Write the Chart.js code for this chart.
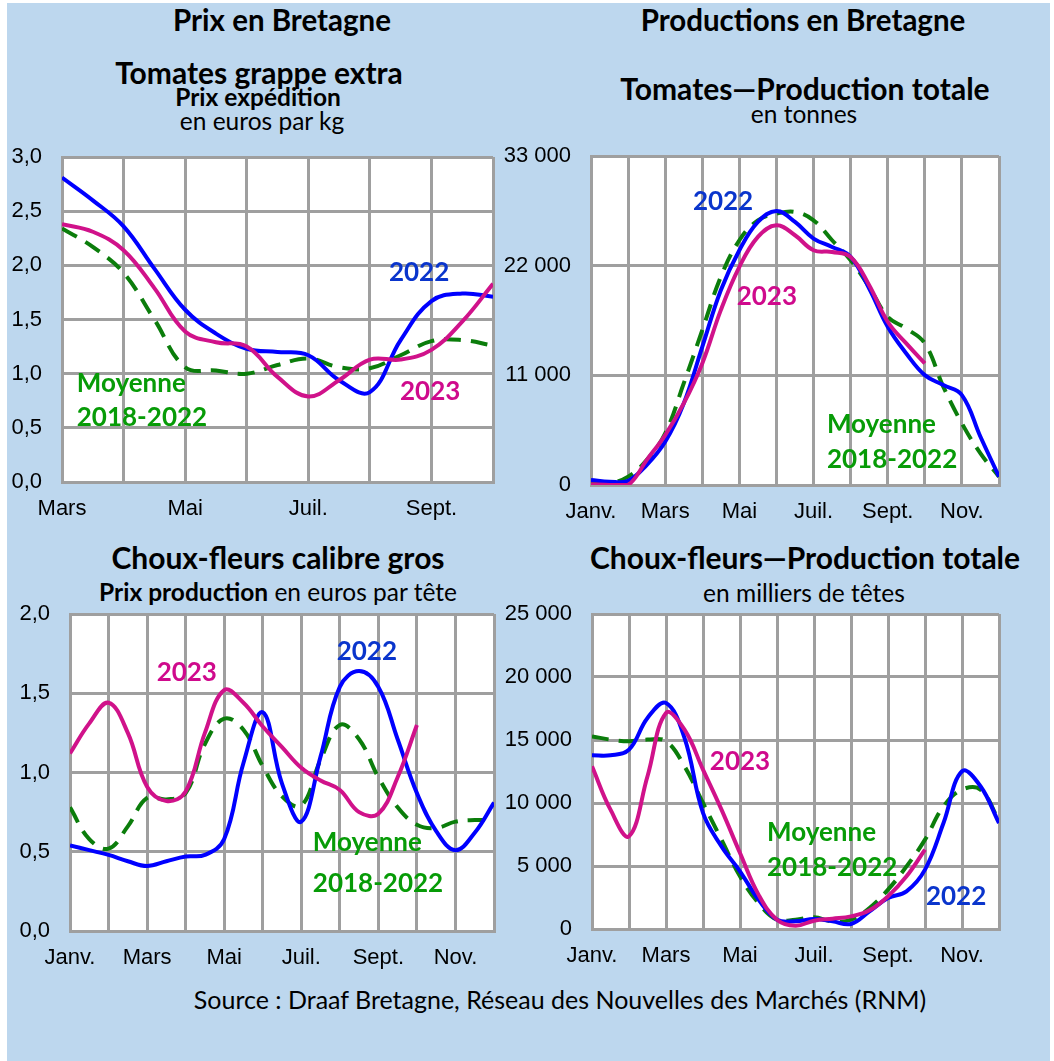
<!DOCTYPE html>
<html lang="fr">
<head>
<meta charset="utf-8">
<script src="https://cdn.jsdelivr.net/npm/chart.js@4.4.1/dist/chart.umd.min.js"></script>
<style>
  html, body { margin: 0; padding: 0; background: #fff; }
  body { width: 1054px; height: 1061px; position: relative; overflow: hidden; font-family: Lato, sans-serif; }
  #panel { position: absolute; left: 7px; top: 3px; width: 1043px; height: 1058px; background: #bdd7ee; }
  .t { position: absolute; white-space: nowrap; transform: translate(-50%, -50%); color: #000; line-height: 1; }
  .b { font-weight: bold; }
  .box { position: absolute; }
</style>
</head>
<body>
<div id="panel"></div>

<div class="t b" style="left:282px;top:20px;font-size:29.5px">Prix en Bretagne</div>
<div class="t b" style="left:803px;top:20px;font-size:29.5px">Productions en Bretagne</div>

<div class="t b" style="left:259px;top:72px;font-size:30px">Tomates grappe extra</div>
<div class="t b" style="left:258px;top:97px;font-size:24.5px">Prix expédition</div>
<div class="t" style="left:262px;top:121px;font-size:24.5px">en euros par kg</div>

<div class="t b" style="left:805px;top:88px;font-size:30px">Tomates—Production totale</div>
<div class="t" style="left:804px;top:114px;font-size:24.5px">en tonnes</div>

<div class="t b" style="left:278px;top:557px;font-size:30px">Choux-fleurs calibre gros</div>
<div class="t" style="left:278px;top:592px;font-size:24.5px"><b>Prix production</b> en euros par tête</div>

<div class="t b" style="left:805px;top:557px;font-size:30px">Choux-fleurs—Production totale</div>
<div class="t" style="left:804px;top:593px;font-size:24.5px">en milliers de têtes</div>

<div class="t" style="left:560px;top:999px;font-size:25px">Source :  Draaf Bretagne, Réseau des Nouvelles des Marchés (RNM)</div>

<div class="box" id="b1"><canvas id="c1"></canvas></div>
<div class="box" id="b2"><canvas id="c2"></canvas></div>
<div class="box" id="b3"><canvas id="c3"></canvas></div>
<div class="box" id="b4"><canvas id="c4"></canvas></div>

<script>
// month positions (1 = Janv., 12 = Déc.), half-month steps
const MONTHS = ["Janv.", "Févr.", "Mars", "Avr.", "Mai", "Juin", "Juil.", "Août", "Sept.", "Oct.", "Nov.", "Déc."];

// Tomates grappe extra - prix expédition (euros/kg), Mars -> Oct.
const tomPrixX = [3, 3.5, 4, 4.5, 5, 5.5, 6, 6.5, 7, 7.5, 8, 8.5, 9, 9.5, 10];
const tomPrix2022 = [2.81, 2.6, 2.36, 1.97, 1.59, 1.37, 1.23, 1.2, 1.17, 0.94, 0.83, 1.31, 1.67, 1.74, 1.71];
const tomPrix2023 = [2.38, 2.31, 2.14, 1.79, 1.39, 1.29, 1.25, 0.97, 0.79, 0.94, 1.13, 1.13, 1.22, 1.48, 1.83];
const tomPrixMoy = [2.34, 2.17, 1.93, 1.5, 1.06, 1.03, 1.0, 1.08, 1.14, 1.06, 1.05, 1.17, 1.3, 1.31, 1.26];

// Tomates - production totale (tonnes)
const tomProdX = [1, 1.5, 2, 2.5, 3, 3.5, 4, 4.5, 5, 5.5, 6, 6.5, 7, 7.5, 8, 8.5, 9, 9.5, 10, 10.5, 11, 11.5, 12];
const tomProd2022 = [500, 330, 430, 2000, 4340, 8180, 13860, 19540, 23550, 26390, 27490, 26390, 24720, 23880, 22880, 19710, 15870, 13190, 11020, 10020, 9020, 4840, 835];
const tomProd2023 = [70, 0, 0, 2500, 5010, 8180, 12190, 17540, 21880, 24880, 26050, 25050, 23550, 23380, 22880, 20040, 16370, 14200, 12190];
const tomProdMoy = [170, 170, 835, 2500, 5180, 10190, 15530, 20880, 24550, 26550, 27220, 27390, 26550, 24550, 22550, 19870, 16870, 15700, 14200, 9850, 6180, 3170, 835];

// Choux-fleurs calibre gros - prix production (euros/tête)
const cfPrixX = [1, 1.5, 2, 2.5, 3, 3.5, 4, 4.5, 5, 5.5, 6, 6.5, 7, 7.5, 8, 8.5, 9, 9.5, 10, 10.5, 11, 11.5, 12];
const cfPrix2022 = [0.54, 0.51, 0.48, 0.44, 0.41, 0.44, 0.47, 0.48, 0.58, 1.06, 1.38, 0.93, 0.69, 1.1, 1.54, 1.64, 1.54, 1.21, 0.87, 0.63, 0.51, 0.62, 0.81];
const cfPrix2023 = [1.12, 1.31, 1.44, 1.25, 0.91, 0.82, 0.88, 1.25, 1.52, 1.44, 1.29, 1.16, 1.03, 0.95, 0.89, 0.75, 0.74, 0.97, 1.3];
const cfPrixMoy = [0.78, 0.58, 0.52, 0.66, 0.84, 0.83, 0.87, 1.18, 1.34, 1.27, 1.04, 0.85, 0.79, 1.08, 1.3, 1.21, 0.97, 0.78, 0.67, 0.65, 0.69, 0.7, 0.7];

// Choux-fleurs - production totale (milliers de têtes)
const cfProdX = [1, 1.5, 2, 2.5, 3, 3.5, 4, 4.5, 5, 5.5, 6, 6.5, 7, 7.5, 8, 8.5, 9, 9.5, 10, 10.5, 11, 11.5, 12];
const cfProd2022 = [13790, 13790, 14240, 16750, 17940, 15160, 9210, 6560, 4580, 2330, 740, 610, 790, 610, 400, 1400, 2460, 2990, 4710, 8410, 12520, 11330, 8410];
const cfProd2023 = [12910, 9470, 7360, 12120, 17150, 15820, 12650, 9470, 6030, 2730, 740, 260, 660, 820, 1000, 1480, 2590, 4180, 6300];
const cfProdMoy = [15290, 15030, 14900, 15030, 14900, 12910, 10000, 7090, 4180, 2060, 740, 740, 930, 610, 740, 1670, 3120, 4970, 7090, 9740, 11060, 11060, 8600];

const BLUE = "#0000ff";
const MAGENTA = "#d0128a";
const GREEN = "#0b7d0b";
const BLUE_TXT = "#0a35cc";
const MAG_TXT = "#cf0a8c";
const GREEN_TXT = "#079b07";
const GRID = "#9f9f9f";

const pts = (xs, ys) => ys.map((v, i) => ({ x: xs[i], y: v }));

const frNum = v => String(v).replace(/\B(?=(\d{3})+(?!\d))/g, " ");
const frDec = v => v.toFixed(1).replace(".", ",");

const plotBg = {
  id: "plotBg",
  beforeDraw(chart) {
    const a = chart.chartArea, ctx = chart.ctx;
    ctx.save();
    ctx.fillStyle = "#fff";
    ctx.fillRect(a.left, a.top, a.right - a.left, a.bottom - a.top);
    ctx.restore();
  }
};

const notes = {
  id: "notes",
  afterDatasetsDraw(chart, args, opts) {
    const ctx = chart.ctx, sx = chart.scales.x, sy = chart.scales.y;
    ctx.save();
    ctx.font = "bold 26px Lato, sans-serif";
    ctx.textBaseline = "middle";
    (opts.items || []).forEach(n => {
      ctx.fillStyle = n.color;
      ctx.textAlign = n.align || "center";
      ctx.fillText(n.text, sx.getPixelForValue(n.x), sy.getPixelForValue(n.y));
    });
    ctx.restore();
  }
};

const X_H = 45, PAD_T = 16, PAD_R = 14;

function makeChart(n, area, xr, yr, series, items) {
  const yW = yr.axisW;
  const box = document.getElementById("b" + n);
  const w = area.w + yW + PAD_R, h = area.h + PAD_T + X_H;
  box.style.left = (area.left - yW) + "px";
  box.style.top = (area.top - PAD_T) + "px";
  box.style.width = w + "px";
  box.style.height = h + "px";
  const cv = document.getElementById("c" + n);
  cv.width = w;
  cv.height = h;

  const line = (data, color, dash) => ({
    data: data,
    borderColor: color,
    borderWidth: 4,
    borderDash: dash || [],
    borderCapStyle: "butt",
    pointRadius: 0,
    tension: 0.4,
    fill: false
  });

  const tickFont = { family: "'Liberation Sans', Arial", size: 22 };

  return new Chart(cv.getContext("2d"), {
    type: "line",
    data: {
      datasets: [
        line(series.y2023, MAGENTA),
        line(series.y2022, BLUE),
        line(series.moy, GREEN, [17, 10])
      ]
    },
    options: {
      responsive: false,
      animation: false,
      layout: { padding: { top: PAD_T, right: PAD_R, left: 0, bottom: 0 } },
      plugins: { legend: { display: false }, tooltip: { enabled: false }, notes: { items: items } },
      scales: {
        x: {
          type: "linear",
          min: xr.min, max: xr.max,
          afterFit: s => { s.height = X_H; s.paddingLeft = 0; s.paddingRight = 0; },
          grid: { color: GRID, lineWidth: 3, drawTicks: false },
          border: { color: GRID, width: 3 },
          ticks: {
            stepSize: 1, autoSkip: false, maxRotation: 0, padding: 14,
            color: "#000", font: tickFont,
            callback: v => (xr.show.includes(v) ? MONTHS[v - 1] : "")
          }
        },
        y: {
          min: yr.min, max: yr.max,
          afterFit: s => { s.width = yW; s.paddingTop = 0; s.paddingBottom = 0; },
          grid: { color: GRID, lineWidth: 3, drawTicks: false },
          border: { color: GRID, width: 3 },
          ticks: {
            stepSize: yr.step, padding: 20,
            color: "#000", font: tickFont,
            callback: yr.fmt
          }
        }
      }
    },
    plugins: [plotBg, notes]
  });
}

makeChart(1, { left: 62, top: 157, w: 431, h: 325 },
  { min: 3, max: 10, show: [3, 5, 7, 9] },
  { min: 0, max: 3, step: 0.5, fmt: frDec, axisW: 62 },
  { y2022: pts(tomPrixX, tomPrix2022), y2023: pts(tomPrixX, tomPrix2023), moy: pts(tomPrixX, tomPrixMoy) },
  [
    { text: "2022", x: 8.8, y: 1.93, color: BLUE_TXT },
    { text: "2023", x: 8.98, y: 0.83, color: MAG_TXT },
    { text: "Moyenne", x: 3.24, y: 0.91, color: GREEN_TXT, align: "left" },
    { text: "2018-2022", x: 3.24, y: 0.59, color: GREEN_TXT, align: "left" }
  ]);

makeChart(2, { left: 591, top: 156, w: 408, h: 329 },
  { min: 1, max: 12, show: [1, 3, 5, 7, 9, 11] },
  { min: 0, max: 33000, step: 11000, fmt: frNum, axisW: 100 },
  { y2022: pts(tomProdX, tomProd2022), y2023: pts(tomProdX, tomProd2023), moy: pts(tomProdX, tomProdMoy) },
  [
    { text: "2022", x: 4.56, y: 28390, color: BLUE_TXT },
    { text: "2023", x: 5.74, y: 18860, color: MAG_TXT },
    { text: "Moyenne", x: 7.36, y: 6020, color: GREEN_TXT, align: "left" },
    { text: "2018-2022", x: 7.36, y: 2510, color: GREEN_TXT, align: "left" }
  ]);

makeChart(3, { left: 70, top: 614, w: 424, h: 317 },
  { min: 1, max: 12, show: [1, 3, 5, 7, 9, 11] },
  { min: 0, max: 2, step: 0.5, fmt: frDec, axisW: 70 },
  { y2022: pts(cfPrixX, cfPrix2022), y2023: pts(cfPrixX, cfPrix2023), moy: pts(cfPrixX, cfPrixMoy) },
  [
    { text: "2023", x: 4.03, y: 1.63, color: MAG_TXT },
    { text: "2022", x: 8.7, y: 1.76, color: BLUE_TXT },
    { text: "Moyenne", x: 7.3, y: 0.56, color: GREEN_TXT, align: "left" },
    { text: "2018-2022", x: 7.3, y: 0.3, color: GREEN_TXT, align: "left" }
  ]);

makeChart(4, { left: 592, top: 614, w: 407, h: 315 },
  { min: 1, max: 12, show: [1, 3, 5, 7, 9, 11] },
  { min: 0, max: 25000, step: 5000, fmt: frNum, axisW: 100 },
  { y2022: pts(cfProdX, cfProd2022), y2023: pts(cfProdX, cfProd2023), moy: pts(cfProdX, cfProdMoy) },
  [
    { text: "2023", x: 5.0, y: 13250, color: MAG_TXT },
    { text: "Moyenne", x: 5.73, y: 7620, color: GREEN_TXT, align: "left" },
    { text: "2018-2022", x: 5.73, y: 4840, color: GREEN_TXT, align: "left" },
    { text: "2022", x: 10.84, y: 2540, color: BLUE_TXT }
  ]);
</script>
</body>
</html>
